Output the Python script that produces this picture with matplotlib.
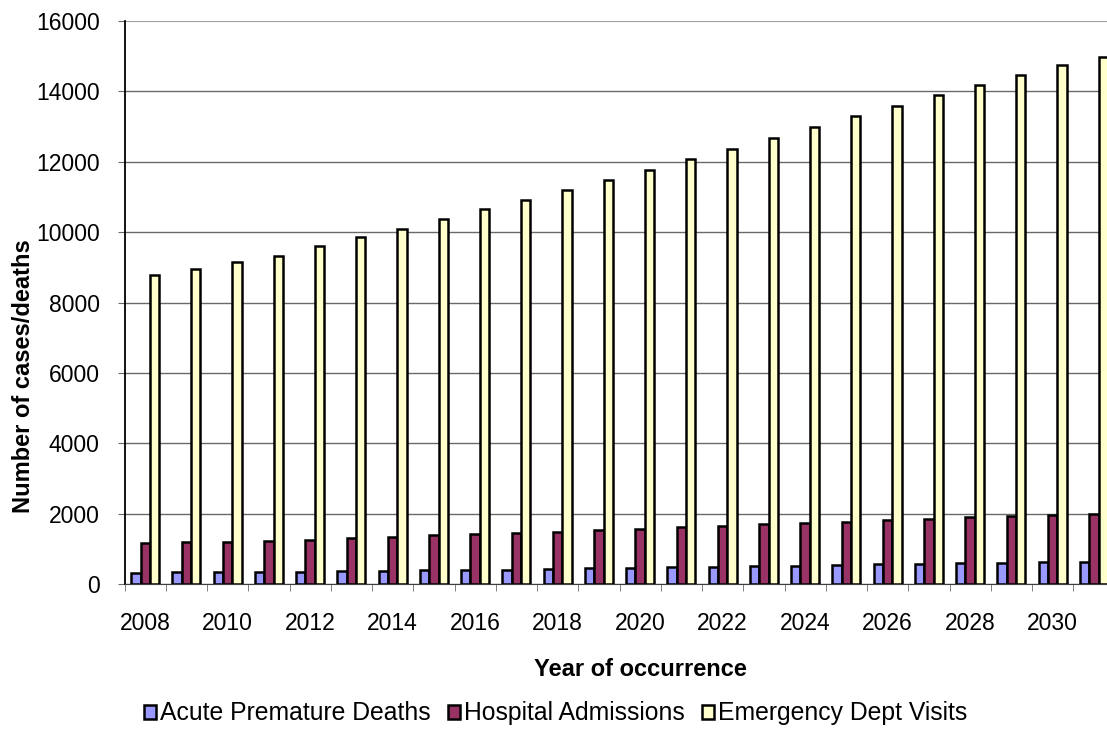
import numpy as np
import matplotlib.pyplot as plt
from matplotlib.ticker import FixedLocator

plt.rcParams['font.family'] = ['Liberation Sans', 'DejaVu Sans']

# data
years = list(range(2008, 2032))
acute_deaths = [320, 330, 335, 340, 350, 365, 380, 395, 400, 410, 430, 445,
                460, 475, 490, 500, 510, 530, 555, 575, 590, 600, 610, 620]
hospital_adm = [1155, 1180, 1200, 1230, 1260, 1295, 1340, 1380, 1410, 1450, 1485, 1535,
                1570, 1610, 1650, 1690, 1740, 1760, 1820, 1850, 1890, 1935, 1970, 2000]
emergency_visits = [8780, 8950, 9140, 9330, 9600, 9850, 10100, 10370, 10650, 10910, 11190, 11470,
                    11765, 12070, 12360, 12670, 12990, 13290, 13600, 13890, 14195, 14480, 14740, 14980]
series_names = ['Acute Premature Deaths', 'Hospital Admissions', 'Emergency Dept Visits']
colors = ['#9999FF', '#993366', '#FFFFCC']

fig = plt.figure(figsize=(11.07, 7.29), dpi=100)
ax = fig.add_axes([0.1125, 0.199, 0.8943, 0.772])

x = np.arange(len(years))
w = 0.226
for i, (vals, name, c) in enumerate(zip([acute_deaths, hospital_adm, emergency_visits], series_names, colors)):
    ax.bar(x + (i - 1) * w, vals, width=w, color=c, edgecolor='black', linewidth=1.8,
           label=name, zorder=3)

ax.set_xlim(-0.5, len(years) - 0.5)
ax.set_ylim(0, 16000)
ax.set_yticks(np.arange(0, 16001, 2000))
ax.yaxis.grid(True, color='#6a6a6a', linewidth=1.0, zorder=0)
ax.get_ygridlines()[-1].set_color('#a0a0a0')
ax.get_ygridlines()[-1].set_linewidth(1.5)
ax.tick_params(axis='y', labelsize=16.5, length=5, color='#6a6a6a', pad=13)

# year labels every other year, ticks at category boundaries
ax.set_xticks(x[::2])
ax.set_xticklabels([str(y) for y in years[::2]])
ax.tick_params(axis='x', which='major', length=0, labelsize=16.5, pad=20)
ax.xaxis.set_minor_locator(FixedLocator(np.arange(-0.5, len(years), 1)))
ax.tick_params(axis='x', which='minor', length=5, color='#6a6a6a')

for s in ['top', 'right']:
    ax.spines[s].set_visible(False)
ax.spines['left'].set_color('black')
ax.spines['left'].set_linewidth(1.3)
ax.spines['bottom'].set_color('#404040')

ax.set_ylabel('Number of cases/deaths', fontsize=17, fontweight='bold')
ax.yaxis.set_label_coords(-0.1025, 0.3686)
ax.yaxis.label.set_va('center')
ax.set_xlabel('Year of occurrence', fontsize=17, fontweight='bold')
ax.xaxis.set_label_coords(0.521, -0.1528)
ax.xaxis.label.set_va('center')

fig.legend(loc='center', bbox_to_anchor=(0.502, 0.0215), ncol=3, frameon=False,
           fontsize=17.8, handlelength=0.5, handleheight=0.5, handletextpad=0.15,
           columnspacing=0.7)

fig.savefig('out.png', dpi=100)
